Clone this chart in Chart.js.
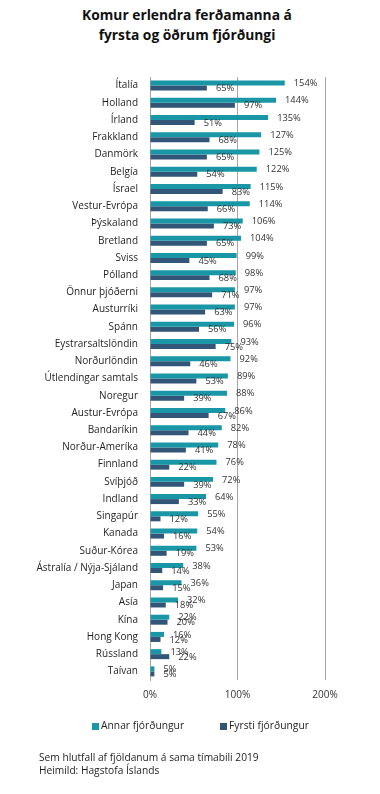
<!DOCTYPE html>
<html>
<head>
<meta charset="utf-8">
<script src="https://cdn.jsdelivr.net/npm/chart.js@4.4.1/dist/chart.umd.min.js"></script>
<style>
  body { margin: 0; background: #fff; font-family: 'Open Sans', sans-serif; color: #1f1f1f; }
  #wrap { position: relative; width: 380px; height: 794px; overflow: hidden; }
  #chart { position: absolute; left: 0; top: 0; }
  .title { position: absolute; left: 0; top: 5px; width: 374px; text-align: center; font-weight: bold; font-size: 13.8px; line-height: 20px; color: #111; }
  .legend { position: absolute; top: 718px; font-size: 10.3px; line-height: 14px; color: #262626; white-space: nowrap; }
  .legend i { display: inline-block; width: 7px; height: 7px; margin-right: 2px; vertical-align: -0.5px; }
  .note { position: absolute; left: 39px; top: 751px; font-size: 10.2px; line-height: 12.7px; color: #1f1f1f; }
</style>
</head>
<body>
<div id="wrap">
  <div class="title">Komur erlendra ferðamanna á<br>fyrsta og öðrum fjórðungi</div>
  <canvas id="chart" width="380" height="794"></canvas>
  <div class="legend" style="left:92px"><i style="background:#1A97A6"></i>Annar fjórðungur</div>
  <div class="legend" style="left:220px"><i style="background:#335577"></i>Fyrsti fjórðungur</div>
  <div class="note">Sem hlutfall af fjöldanum á sama tímabili 2019<br>Heimild: Hagstofa Íslands</div>
</div>
<script>
const countries = ['Ítalía', 'Holland', 'Írland', 'Frakkland', 'Danmörk', 'Belgía', 'Ísrael', 'Vestur-Evrópa', 'Þýskaland', 'Bretland',
  'Sviss', 'Pólland', 'Önnur þjóðerni', 'Austurríki', 'Spánn', 'Eystrarsaltslöndin', 'Norðurlöndin', 'Útlendingar samtals', 'Noregur', 'Austur-Evrópa',
  'Bandaríkin', 'Norður-Ameríka', 'Finnland', 'Svíþjóð', 'Indland', 'Singapúr', 'Kanada', 'Suður-Kórea', 'Ástralía / Nýja-Sjáland', 'Japan',
  'Asía', 'Kína', 'Hong Kong', 'Rússland', 'Taívan'];
const annarQ = [154, 144, 135, 127, 125, 122, 115, 114, 106, 104, 99, 98, 97, 97, 96, 93, 92, 89, 88, 86, 82, 78, 76, 72, 64, 55, 54, 53, 38, 36, 32, 22, 16, 13, 5];
const fyrstiQ = [65, 97, 51, 68, 65, 54, 83, 66, 73, 65, 45, 68, 71, 63, 56, 75, 46, 53, 39, 67, 44, 41, 22, 39, 33, 12, 16, 19, 14, 15, 18, 20, 12, 22, 5];
const xTicks = [0, 100, 200];

const TEAL = '#1A97A6';
const NAVY = '#335577';
const GRID = '#a6a6a6';
const FONT = "'Open Sans', sans-serif";

// value labels to the right of every bar
const barLabels = {
  id: 'barLabels',
  afterDatasetsDraw(chart) {
    const ctx = chart.ctx;
    ctx.save();
    ctx.font = '9.3px ' + FONT;
    ctx.fillStyle = '#333';
    ctx.textAlign = 'left';
    ctx.textBaseline = 'middle';
    chart.data.datasets.forEach((ds, i) => {
      chart.getDatasetMeta(i).data.forEach((bar, j) => {
        ctx.fillText(ds.data[j] + '%', bar.x + 9, bar.y + 0.5);
      });
    });
    ctx.restore();
  }
};

new Chart(document.getElementById('chart'), {
  type: 'bar',
  data: {
    labels: countries,
    datasets: [
      { label: 'Annar fjórðungur', data: annarQ, backgroundColor: TEAL, categoryPercentage: 0.58, barPercentage: 1 },
      { label: 'Fyrsti fjórðungur', data: fyrstiQ, backgroundColor: NAVY, categoryPercentage: 0.58, barPercentage: 1 }
    ]
  },
  options: {
    indexAxis: 'y',
    responsive: false,
    animation: false,
    devicePixelRatio: 1,
    layout: { padding: { top: 77, left: 0, right: 55, bottom: 84 } },
    plugins: { legend: { display: false }, tooltip: { enabled: false } },
    scales: {
      x: {
        min: 0, max: 200,
        afterBuildTicks: s => { s.ticks = xTicks.map(v => ({ value: v })); },
        afterFit: s => { s.height = 30; },
        grid: { color: GRID, drawTicks: false },
        border: { display: false },
        ticks: { color: '#333', padding: 9, font: { family: FONT, size: 10 }, callback: v => v + '%', maxRotation: 0 }
      },
      y: {
        afterFit: s => { s.width = 150; },
        grid: { display: false, drawTicks: false },
        border: { display: true, color: GRID },
        ticks: { color: '#1f1f1f', padding: 12, autoSkip: false, font: { family: FONT, size: 10 } }
      }
    }
  },
  plugins: [barLabels]
});
</script>
</body>
</html>
